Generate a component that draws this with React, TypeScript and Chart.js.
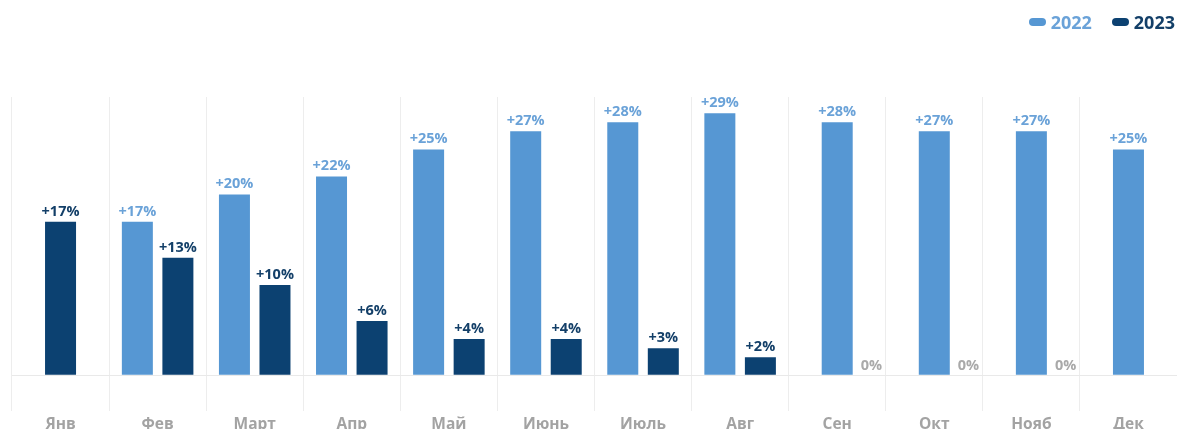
import React, { useEffect, useRef } from "react";
import { Chart, registerables } from "chart.js";

Chart.register(...registerables);

const months = ["Янв", "Фев", "Март", "Апр", "Май", "Июнь", "Июль", "Авг", "Сен", "Окт", "Нояб", "Дек"];
const values2022: (number | null)[] = [null, 17, 20, 22, 25, 27, 28, 29, 28, 27, 27, 25];
const values2023: (number | null)[] = [17, 13, 10, 6, 4, 4, 3, 2, 0, 0, 0, null];
const seriesNames = ["2022", "2023"];

const COLOR_2022 = "#5697d3";
const COLOR_2023 = "#0c4171";
const LABEL_2022 = "#6aa2d8";
const LABEL_2023 = "#133f68";
const FONT = "'Open Sans', 'DejaVu Sans', sans-serif";

const valueLabels = {
  id: "valueLabels",
  afterDatasetsDraw(chart: any) {
    const ctx = chart.ctx;
    ctx.save();
    ctx.font = `700 14.5px ${FONT}`;
    chart.data.datasets.forEach((ds: any, di: number) => {
      const meta = chart.getDatasetMeta(di);
      const raw = di === 0 ? values2022 : values2023;
      meta.data.forEach((bar: any, i: number) => {
        const v = raw[i];
        if (v === null || v === undefined) return;
        if (v === 0) return;
        ctx.fillStyle = di === 0 ? LABEL_2022 : LABEL_2023;
        ctx.textAlign = "center";
        ctx.textBaseline = "bottom";
        ctx.fillText(`+${v}%`, bar.x, bar.y - 3);
      });
    });
    // zero values of 2023 shown next to the 2022 bar
    const meta0 = chart.getDatasetMeta(0);
    const zeroY = chart.scales.y.getPixelForValue(0);
    values2023.forEach((v, i) => {
      if (v !== 0) return;
      const bar: any = meta0.data[i];
      if (!bar) return;
      ctx.fillStyle = "#a9a9a9";
      ctx.textAlign = "left";
      ctx.textBaseline = "bottom";
      ctx.fillText(`${v}%`, bar.x + bar.width / 2 + 8, zeroY - 2);
    });
    ctx.restore();
  },
};

export default function App() {
  const canvasRef = useRef<HTMLCanvasElement | null>(null);

  useEffect(() => {
    document.body.style.margin = "0";
    const chart = new Chart(canvasRef.current as HTMLCanvasElement, {
      type: "bar",
      data: {
        labels: months,
        datasets: [
          {
            label: seriesNames[0],
            data: values2022,
            backgroundColor: COLOR_2022,
            categoryPercentage: 0.835,
            barPercentage: 0.765,
            maxBarThickness: 31,
          },
          {
            label: seriesNames[1],
            data: values2023.map((v) => (v === 0 ? null : v)),
            backgroundColor: COLOR_2023,
            categoryPercentage: 0.835,
            barPercentage: 0.765,
            maxBarThickness: 31,
          },
        ],
      },
      options: {
        animation: false,
        responsive: true,
        maintainAspectRatio: false,
        skipNull: true,
        layout: { padding: { left: 12, right: 0, top: 97, bottom: 0 } },
        plugins: {
          legend: { display: false },
          tooltip: { enabled: false },
        },
        scales: {
          x: {
            grid: { display: true, offset: true, color: "#ededed", drawTicks: false },
            border: { display: false },
            ticks: {
              color: "#a3a3a3",
              font: { family: FONT, size: 15.5, weight: "700" },
              padding: 4,
            },
          },
          y: {
            display: true,
            min: -4,
            max: 30.8,
            afterBuildTicks: (axis: any) => {
              axis.ticks = [{ value: 0 }];
            },
            grid: { color: "#e9e9e9", drawTicks: false },
            border: { display: false },
            ticks: { display: false },
          },
        },
      } as any,
      plugins: [valueLabels],
    });
    return () => chart.destroy();
  }, []);

  const pill = (color: string) => ({
    display: "inline-block",
    width: 17,
    height: 8,
    borderRadius: 4,
    background: color,
    marginRight: 5,
  });

  return (
    <div style={{ position: "relative", width: 1177, height: 429, overflow: "hidden", background: "#fff" }}>
      <div
        style={{
          position: "absolute",
          top: 10,
          right: 2,
          display: "flex",
          alignItems: "center",
          fontFamily: FONT,
          fontWeight: 700,
          fontSize: 18,
          lineHeight: "24px",
          zIndex: 2,
        }}
      >
        <span style={{ display: "flex", alignItems: "center", color: LABEL_2022, marginRight: 20 }}>
          <span style={pill(COLOR_2022)} />
          {seriesNames[0]}
        </span>
        <span style={{ display: "flex", alignItems: "center", color: LABEL_2023 }}>
          <span style={pill(COLOR_2023)} />
          {seriesNames[1]}
        </span>
      </div>
      <div style={{ position: "absolute", left: 0, top: 0, width: 1177, height: 438 }}>
        <canvas ref={canvasRef} />
      </div>
    </div>
  );
}
